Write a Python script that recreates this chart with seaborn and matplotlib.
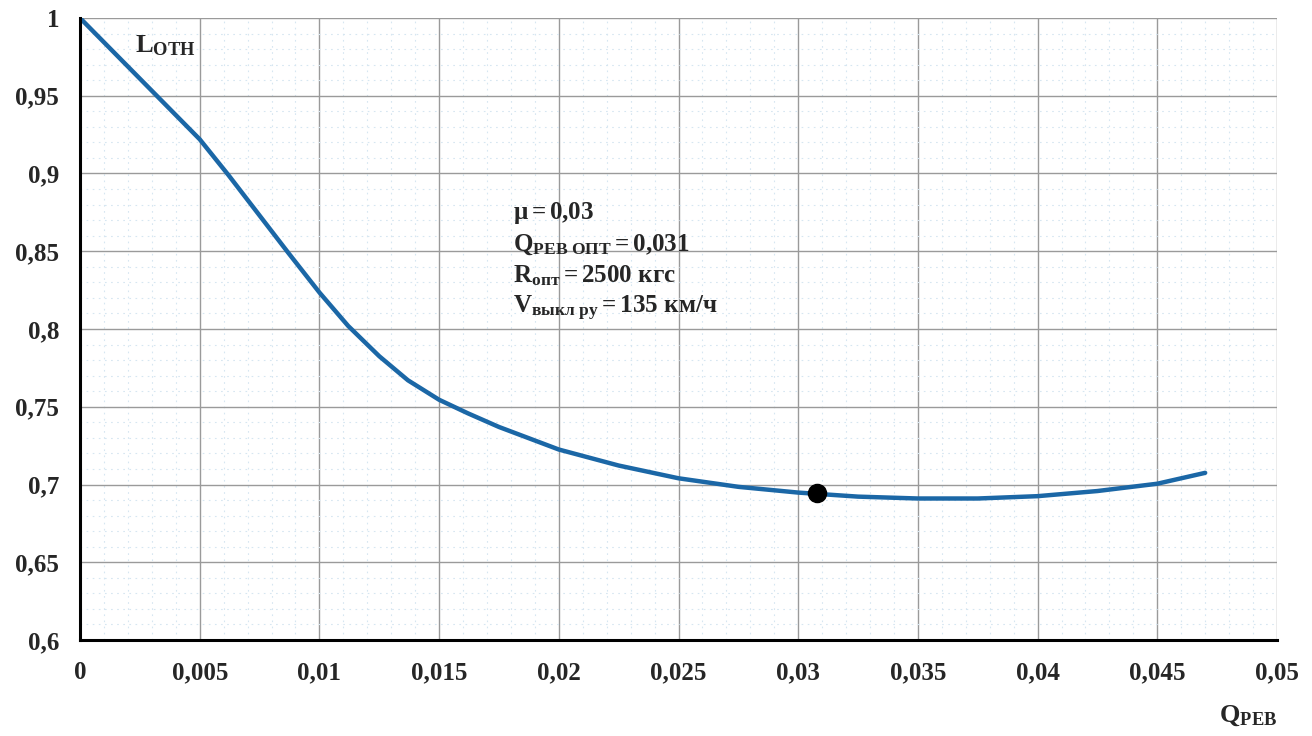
import numpy as np
import pandas as pd
import matplotlib
matplotlib.use("Agg")
import matplotlib.pyplot as plt
from matplotlib.ticker import MultipleLocator, FuncFormatter
import seaborn as sns

# values
q_reb = [0.0, 0.0025, 0.005, 0.0062, 0.0075, 0.0087, 0.01, 0.0112, 0.0125,
         0.0137, 0.015, 0.0162, 0.0175, 0.02, 0.0225, 0.025, 0.0275, 0.03,
         0.0325, 0.035, 0.0375, 0.04, 0.0425, 0.045, 0.047]
l_oth = [1.0, 0.961, 0.922, 0.899, 0.873, 0.849, 0.8235, 0.802, 0.7825,
         0.767, 0.7545, 0.7458, 0.737, 0.7225, 0.7122, 0.704, 0.6985, 0.6948,
         0.6922, 0.691, 0.691, 0.6925, 0.6958, 0.7005, 0.7075]
q_opt = [0.0308]
l_opt = [0.6945]

df = pd.DataFrame({"Q": q_reb, "L": l_oth})

sns.set_style("white")
plt.rcParams["font.family"] = ["Liberation Serif", "DejaVu Serif"]
plt.rcParams["mathtext.fontset"] = "custom"
plt.rcParams["mathtext.rm"] = "Liberation Serif"
plt.rcParams["mathtext.it"] = "Liberation Serif"
plt.rcParams["mathtext.bf"] = "Liberation Serif:bold"

fig = plt.figure(figsize=(13.12, 7.36), dpi=100)
ax = fig.add_axes([80 / 1312, 96 / 736, 1197 / 1312, 622 / 736])

sns.lineplot(data=df, x="Q", y="L", ax=ax, color="#1b67a6", linewidth=3.2)
ax.scatter(q_opt, l_opt, s=170, color="black", zorder=5)

ax.set_xlim(0, 0.05)
ax.set_ylim(0.6, 1.0)
ax.xaxis.set_major_locator(MultipleLocator(0.005))
ax.yaxis.set_major_locator(MultipleLocator(0.05))
ax.xaxis.set_minor_locator(MultipleLocator(0.001))
ax.yaxis.set_minor_locator(MultipleLocator(0.01))

def comma(v, pos):
    s = f"{v:.3f}".rstrip("0").rstrip(".")
    return s.replace(".", ",")

ax.xaxis.set_major_formatter(FuncFormatter(comma))
ax.yaxis.set_major_formatter(FuncFormatter(comma))

ax.grid(True, which="major", color="#9a9a9a", linewidth=1.0)
ax.grid(True, which="minor", color="#d6e6f1", linewidth=0.8, linestyle=(0, (1.5, 4)))
ax.set_axisbelow(True)

for side in ["top", "right"]:
    ax.spines[side].set_visible(False)
for side in ["left", "bottom"]:
    ax.spines[side].set_color("black")
    ax.spines[side].set_linewidth(2.2)

ax.tick_params(axis="both", which="major", direction="out", length=7, width=2,
               labelsize=18, pad=8, color="black")
ax.tick_params(axis="both", which="minor", length=0)
for lab in ax.get_xticklabels() + ax.get_yticklabels():
    lab.set_fontweight("bold")

ax.set_xlabel("")
ax.set_ylabel("")

ax.text(0.0023, 0.982, r"$\mathbf{L}_{\mathbf{OTH}}$", fontsize=19, va="center")
fig.text(1248 / 1312, 20 / 736, r"$\mathbf{Q}_{\mathbf{PEB}}$", fontsize=19, ha="center", va="center")

lines = [
    r"$\mathbf{\mu = 0{,}03}$",
    r"$\mathbf{Q_{РЕВ\ ОПТ} = 0{,}031}$",
    r"$\mathbf{R_{опт} = 2500\ кгс}$",
    r"$\mathbf{V_{выкл\ ру} = 135\ км/ч}$",
]
ys = [0.8746, 0.854, 0.834, 0.8135]
for t, y in zip(lines, ys):
    ax.text(0.0181, y, t, fontsize=18, va="center")

fig.savefig("out.png", dpi=100)
